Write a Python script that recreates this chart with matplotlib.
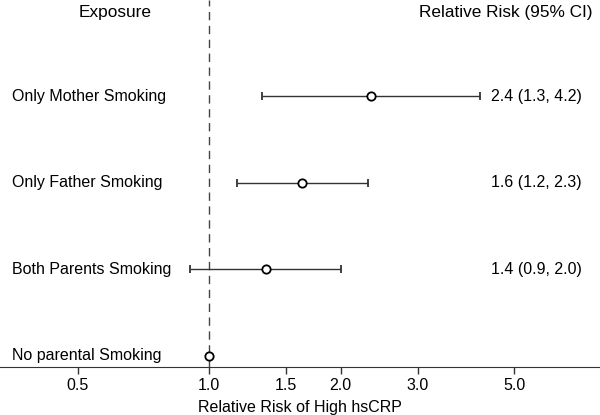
import matplotlib.pyplot as plt
import numpy as np

plt.rcParams['font.family'] = ['Liberation Sans', 'DejaVu Sans']

exposures = ['No parental Smoking', 'Both Parents Smoking',
             'Only Father Smoking', 'Only Mother Smoking']
rr = [1.0, 1.35, 1.63, 2.35]
lower = [1.0, 0.905, 1.16, 1.32]
upper = [1.0, 2.0, 2.31, 4.17]
rr_text = ['', '1.4 (0.9, 2.0)', '1.6 (1.2, 2.3)', '2.4 (1.3, 4.2)']
ticks = [0.5, 1.0, 1.5, 2.0, 3.0, 5.0]
tick_labels = ['0.5', '1.0', '1.5', '2.0', '3.0', '5.0']

fs = 11.5
fig = plt.figure(figsize=(6, 4.15), dpi=100)
ax = fig.add_axes([0, 0.116, 1, 0.884])
ax.set_xscale('log')
ax.set_xlim(0.332, 7.85)
ax.set_ylim(-0.127, 4.116)

y = np.arange(len(exposures))
rr = np.array(rr)
err = np.array([rr - np.array(lower), np.array(upper) - rr])
ax.axvline(1.0, color='#444444', lw=1, ls=(0, (6, 4)), zorder=1)
ax.errorbar(rr, y, xerr=err, fmt='o', color='#333333', ecolor='#333333',
            elinewidth=1, capsize=3, capthick=1, markersize=6,
            markerfacecolor='white', markeredgecolor='black',
            markeredgewidth=1.3, zorder=3)

tr = ax.get_yaxis_transform()
for yi, name, txt in zip(y, exposures, rr_text):
    ax.text(0.02, yi, name, transform=tr, ha='left', va='center', fontsize=fs)
    ax.text(0.97, yi, txt, transform=tr, ha='right', va='center', fontsize=fs)

ax.text(0.192, 3.97, 'Exposure', transform=tr,
        ha='center', va='center', fontsize=12.4)
ax.text(0.988, 3.97, 'Relative Risk (95% CI)', transform=tr,
        ha='right', va='center', fontsize=12.4)

ax.set_xticks(ticks)
ax.set_xticklabels(tick_labels, fontsize=fs)
ax.xaxis.set_minor_locator(plt.NullLocator())
ax.tick_params(axis='x', length=5, width=1, color='#333333', pad=3)
ax.set_yticks([])
for s in ['top', 'left', 'right']:
    ax.spines[s].set_visible(False)
ax.spines['bottom'].set_color('#333333')
ax.set_xlabel('Relative Risk of High hsCRP', fontsize=fs, labelpad=5)

fig.savefig('out.png', dpi=100)
